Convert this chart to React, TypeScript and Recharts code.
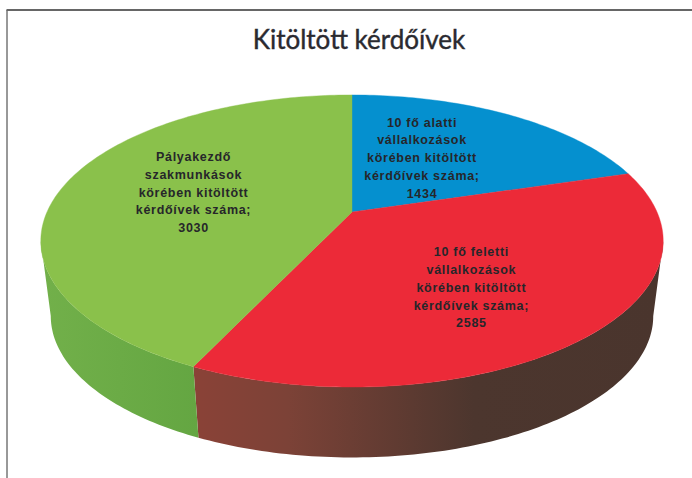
import React from 'react';
import { PieChart, Pie } from 'recharts';

const categories = [
  '10 fő alatti vállalkozások körében kitöltött kérdőívek száma',
  '10 fő feletti vállalkozások körében kitöltött kérdőívek száma',
  'Pályakezdő szakmunkások körében kitöltött kérdőívek száma',
];
const values = [1434, 2585, 3030];
const labelLines = [
  ['10 fő alatti', 'vállalkozások', 'körében kitöltött', 'kérdőívek száma;', '1434'],
  ['10 fő feletti', 'vállalkozások', 'körében kitöltött', 'kérdőívek száma;', '2585'],
  ['Pályakezdő', 'szakmunkások', 'körében kitöltött', 'kérdőívek száma;', '3030'],
];
const topColors = ['#0590cf', '#ec2a38', '#8ac14b'];
const wallFills = ['none', 'url(#wallRed)', 'url(#wallGreen)'];

// where each label sits along its slice radius, plus a small vertical nudge
const labelRadius = [0.41, 0.55, 0.545];
const labelNudge = [-10.5, 12, -3];

const data = categories.map((name, i) => ({ name, value: values[i] }));

// the flat pie is tilted with a simple perspective
const TILT = 0.1986;
const SQUASH = 0.46;
const BASE_SCALE = 0.968;
const BASE_DROP = 76;

const project = (cx: number, cy: number, radius: number, deg: number, r = 1) => {
  const a = (deg * Math.PI) / 180;
  const u = Math.cos(a) * r;
  const v = Math.sin(a) * r;
  const k = 1 / (1 + TILT * v);
  return { x: cx + radius * u * k, y: cy - radius * SQUASH * v * k };
};

const arcPoints = (from: number, to: number) => {
  const steps = Math.max(2, Math.ceil(Math.abs(to - from)));
  const out: number[] = [];
  for (let i = 0; i <= steps; i++) out.push(from + ((to - from) * i) / steps);
  return out;
};

const toPath = (pts: { x: number; y: number }[]) =>
  'M' + pts.map((p) => `${p.x.toFixed(2)},${p.y.toFixed(2)}`).join('L') + 'Z';

const Slice3D = (props: any) => {
  const { cx, cy, outerRadius, startAngle, endAngle, index } = props;
  const top = [
    { x: cx, y: cy },
    ...arcPoints(startAngle, endAngle).map((d) => project(cx, cy, outerRadius, d)),
  ];

  // only the front of the rim shows a wall
  const limit = (Math.asin(TILT) * 180) / Math.PI;
  const from = Math.min(startAngle, -limit);
  const to = Math.max(endAngle, -180 + limit);
  let wall = null;
  if (from > to) {
    const angles = arcPoints(from, to);
    const upper = angles.map((d) => project(cx, cy, outerRadius, d));
    const lower = [...angles].reverse().map((d) => {
      const p = project(cx, cy, outerRadius * BASE_SCALE, d);
      return { x: p.x, y: p.y + BASE_DROP };
    });
    wall = <path d={toPath([...upper, ...lower])} fill={wallFills[index]} />;
  }

  return (
    <g>
      {wall}
      <path d={toPath(top)} fill={topColors[index]} stroke={topColors[index]} strokeWidth={0.4} />
    </g>
  );
};

const SliceLabel = (props: any) => {
  const { cx, cy, outerRadius, midAngle, index } = props;
  const p = project(cx, cy, outerRadius, midAngle, labelRadius[index]);
  const lines = labelLines[index];
  const lineGap = 17.8;
  return (
    <text
      x={p.x}
      y={p.y + labelNudge[index]}
      textAnchor="middle"
      fontFamily="'Liberation Sans', Arial, sans-serif"
      fontWeight={700}
      fontSize={12.5}
      letterSpacing={0.7}
      fill="#26262a"
    >
      {lines.map((line, i) => (
        <tspan key={i} x={p.x} y={p.y + labelNudge[index] + (i - (lines.length - 1) / 2) * lineGap + 4}>
          {line}
        </tspan>
      ))}
    </text>
  );
};

export default function App() {
  return (
    <div style={{ position: 'absolute', left: 0, top: 0, width: 692, height: 478, background: '#fff', overflow: 'hidden' }}>
      <PieChart width={692} height={478} margin={{ top: 0, right: 0, bottom: 0, left: 0 }}>
        <defs>
          <linearGradient id="wallRed" gradientUnits="userSpaceOnUse" x1="195" y1="0" x2="660" y2="0">
            <stop offset="0" stopColor="#8a4237" />
            <stop offset="0.2" stopColor="#7c4237" />
            <stop offset="0.6" stopColor="#4c362e" />
            <stop offset="1" stopColor="#4a352d" />
          </linearGradient>
          <linearGradient id="wallGreen" gradientUnits="userSpaceOnUse" x1="41" y1="0" x2="199" y2="0">
            <stop offset="0" stopColor="#72b04a" />
            <stop offset="1" stopColor="#64a642" />
          </linearGradient>
        </defs>
        <line x1={7} y1={10} x2={7} y2={478} stroke="#333" strokeWidth={1} />
        <line x1={6.5} y1={10} x2={692} y2={10} stroke="#666" strokeWidth={2} />
        <Pie
          data={data}
          dataKey="value"
          nameKey="name"
          cx={352}
          cy={212}
          outerRadius={305}
          startAngle={90}
          endAngle={-270}
          stroke="none"
          shape={Slice3D}
          label={SliceLabel}
          labelLine={false}
          isAnimationActive={false}
        />
        <text
          x={359}
          y={49}
          textAnchor="middle"
          fontFamily="Lato, sans-serif"
          fontSize={26}
          fill="#2a2a30"
          stroke="#2a2a30"
          strokeWidth={0.4}
        >
          Kitöltött kérdőívek
        </text>
      </PieChart>
    </div>
  );
}
